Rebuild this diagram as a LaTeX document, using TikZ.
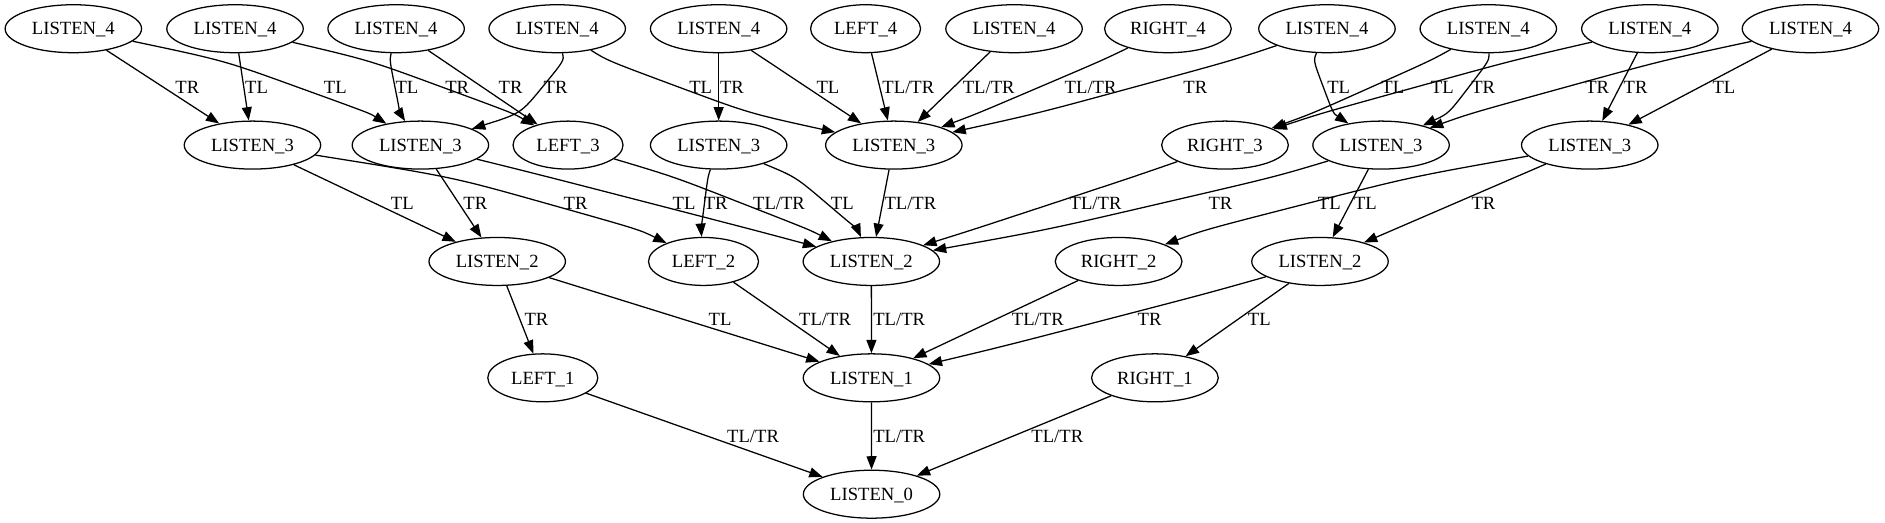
\documentclass[tikz,border=0pt]{standalone}
\usepackage{fontspec}
\setmainfont{Liberation Serif}
\usetikzlibrary{arrows.meta,shapes.geometric,calc}
\tikzset{
  gnode/.style={draw, ellipse, line width=1.05pt, inner sep=0pt, minimum height=39.9pt,
    font=\fontsize{15.5}{18}\selectfont, text height=10.3pt, text depth=0pt},
  lst/.style={gnode, minimum width=113.5pt},
  lft/.style={gnode, minimum width=91.5pt},
  rgt/.style={gnode, minimum width=105.4pt},
  gvedge/.style={line width=1.05pt, -{Triangle[length=11.1pt,width=8.3pt]}},
  lbl/.style={font=\fontsize{15.5}{18}\selectfont, inner sep=0pt, text height=10.3pt, text depth=0pt},
}
\def\kk{22pt}
\def\yAB{362.75}
\def\yBC{265.95}
\def\yCD{169.15}
\def\yDE{72.35}
% straight edge: tail, head, label, label x, label y
\newcommand\sedge[5]{%
  \draw[gvedge] (#1) -- (#2);
  \node[lbl] at (#4,#5) {#3};
}
% curved edge through a waypoint: tail, head, waypoint x, label, label x, label y
\newcommand\cedge[6]{%
  \draw[gvedge] let \p1=(#1), \p2=(#2), \p3=(#3,#6),
    \n1={veclen(\x3-\x1,\y3-\y1)}, \n2={veclen(\x2-\x3,\y2-\y3)},
    \n3={((\x3-\x1)/\n1+(\x2-\x3)/\n2)/((\y1-\y3)/\n1+(\y3-\y2)/\n2)}
  in (#1) .. controls ({\x3-\kk*\n3},{\y3+\kk}) .. (\p3)
     .. controls ({\x3+\kk*\n3},{\y3-\kk}) .. (#2);
  \node[lbl] at (#5,#6) {#4};
}
\begin{document}
\begin{tikzpicture}[x=1pt,y=1pt]
\useasboundingbox (0,0) rectangle (1568,435.05);
% rank 4
\node[lst] (A1) at (61,411.15) {LISTEN\_4};
\node[lst] (A2) at (195.5,411.15) {LISTEN\_4};
\node[lst] (A3) at (329.5,411.15) {LISTEN\_4};
\node[lst] (A4) at (463.5,411.15) {LISTEN\_4};
\node[lst] (A5) at (597.8,411.15) {LISTEN\_4};
\node[lft] (A6) at (720,411.15) {LEFT\_4};
\node[lst] (A7) at (843.5,411.15) {LISTEN\_4};
\node[rgt] (A8) at (971.5,411.15) {RIGHT\_4};
\node[lst] (A9) at (1103.8,411.15) {LISTEN\_4};
\node[lst] (A10) at (1238,411.15) {LISTEN\_4};
\node[lst] (A11) at (1372.4,411.15) {LISTEN\_4};
\node[lst] (A12) at (1506,411.15) {LISTEN\_4};
% rank 3
\node[lst] (B1) at (210,314.35) {LISTEN\_3};
\node[lst] (B2) at (349.7,314.35) {LISTEN\_3};
\node[lft] (B3) at (472.5,314.35) {LEFT\_3};
\node[lst] (B4) at (597.8,314.35) {LISTEN\_3};
\node[lst] (B5) at (743.5,314.35) {LISTEN\_3};
\node[rgt] (B6) at (1019,314.35) {RIGHT\_3};
\node[lst] (B7) at (1148.8,314.35) {LISTEN\_3};
\node[lst] (B8) at (1322.4,314.35) {LISTEN\_3};
% rank 2
\node[lst] (C1) at (413.6,217.55) {LISTEN\_2};
\node[lft] (C2) at (585.2,217.55) {LEFT\_2};
\node[lst] (C3) at (724.8,217.55) {LISTEN\_2};
\node[rgt] (C4) at (930.5,217.55) {RIGHT\_2};
\node[lst] (C5) at (1098,217.55) {LISTEN\_2};
% rank 1
\node[lft] (D1) at (451.5,120.75) {LEFT\_1};
\node[lst] (D2) at (724.9,120.75) {LISTEN\_1};
\node[rgt] (D3) at (960.7,120.75) {RIGHT\_1};
% rank 0
\node[lst] (E) at (725,23.95) {LISTEN\_0};
% edges rank 4 -> 3
\sedge{A1}{B1}{TR}{155.8}{\yAB}
\sedge{A2}{B1}{TL}{213.4}{\yAB}
\cedge{A1}{B2}{247}{TL}{278.9}{\yAB}
\cedge{A3}{B2}{328.5}{TL}{338.5}{\yAB}
\cedge{A2}{B3}{367.3}{TR}{380.3}{\yAB}
\sedge{A3}{B3}{TR}{424.7}{\yAB}
\cedge{A4}{B2}{451.3}{TR}{462.1}{\yAB}
\cedge{A4}{B5}{564.2}{TL}{582.8}{\yAB}
\sedge{A5}{B4}{TR}{608.9}{\yAB}
\sedge{A5}{B5}{TL}{688.7}{\yAB}
\sedge{A6}{B5}{TL/TR}{755.6}{\yAB}
\sedge{A7}{B5}{TL/TR}{822.4}{\yAB}
\cedge{A8}{B5}{865}{TL/TR}{907.2}{\yAB}
\cedge{A9}{B5}{944}{TR}{994.3}{\yAB}
\cedge{A9}{B7}{1100.7}{TL}{1113.5}{\yAB}
\cedge{A10}{B6}{1141}{TL}{1158.6}{\yAB}
\cedge{A11}{B6}{1178.3}{TL}{1199.7}{\yAB}
\cedge{A10}{B7}{1221.9}{TR}{1233.8}{\yAB}
\cedge{A12}{B7}{1303}{TR}{1328.6}{\yAB}
\sedge{A11}{B8}{TR}{1360.5}{\yAB}
\sedge{A12}{B8}{TL}{1434}{\yAB}
% edges rank 3 -> 2
\sedge{B1}{C1}{TL}{334.7}{\yBC}
\sedge{B2}{C1}{TR}{395.4}{\yBC}
\cedge{B1}{C2}{454}{TR}{478.8}{\yBC}
\cedge{B2}{C3}{541}{TL}{569}{\yBC}
\cedge{B3}{C3}{617}{TL/TR}{648}{\yBC}
\cedge{B4}{C2}{586}{TR}{595.3}{\yBC}
\cedge{B4}{C3}{687.6}{TL}{700.6}{\yBC}
\sedge{B5}{C3}{TL/TR}{757.3}{\yBC}
\cedge{B6}{C3}{876}{TL/TR}{911.3}{\yBC}
\cedge{B7}{C3}{966}{TR}{1015.2}{\yBC}
\cedge{B8}{C4}{1088}{TL}{1105.7}{\yBC}
\sedge{B7}{C5}{TL}{1135.8}{\yBC}
\sedge{B8}{C5}{TR}{1234}{\yBC}
% edges rank 2 -> 1
\sedge{C1}{D1}{TR}{446.2}{\yCD}
\sedge{C1}{D2}{TL}{599}{\yCD}
\sedge{C2}{D2}{TL/TR}{686.3}{\yCD}
\sedge{C3}{D2}{TL/TR}{748}{\yCD}
\sedge{C4}{D2}{TL/TR}{863.3}{\yCD}
\cedge{C5}{D2}{920}{TR}{956.2}{\yCD}
\sedge{C5}{D3}{TL}{1047.5}{\yCD}
% edges rank 1 -> 0
\sedge{D1}{E}{TL/TR}{626.4}{\yDE}
\sedge{D2}{E}{TL/TR}{748}{\yDE}
\sedge{D3}{E}{TL/TR}{879.5}{\yDE}
\end{tikzpicture}
\end{document}
